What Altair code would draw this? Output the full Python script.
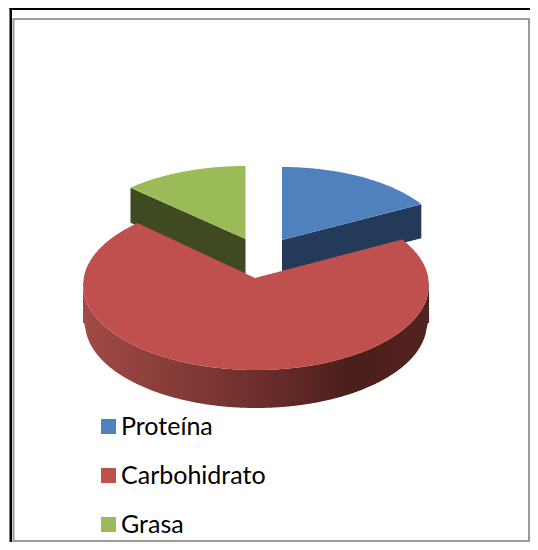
import math
import numpy as np
import pandas as pd
import altair as alt

# Data
categorias = ["Proteína", "Carbohidrato", "Grasa"]
valores = [16, 72, 12]
colores = ["#4F81BD", "#C0504D", "#9BBB59"]
colores_lado = ["#243A5A", "#404A20"]

# Geometry of the tilted pie, in page pixels
PAGE_W, PAGE_H, M = 538, 550, 8
RED = dict(cx=256, cy=285, a=173, b=85, apex=(255, 278))
RED_BOTTOM = dict(cx=256, cy=323, a=171, b=85)
BLUE = dict(cx=282, cy=247, a=165, b=80, apex=(282, 240))
GREEN = dict(cx=245.5, cy=246, a=168, b=80, apex=(245.5, 239))
DEPTH_BLUE, DEPTH_GREEN = 34, 35

total = sum(valores)
angulos = np.cumsum([0] + [v / total * 360 for v in valores])


def pt(e, deg):
    r = math.radians(deg)
    return e["cx"] + e["a"] * math.sin(r), e["cy"] - e["b"] * math.cos(r)


def half(e, x, sign):
    u = np.clip((x - e["cx"]) / e["a"], -1, 1)
    return e["cy"] + sign * e["b"] * np.sqrt(1 - u * u)


def segment(p, q, x):
    return p[1] + (q[1] - p[1]) * (x - p[0]) / (q[0] - p[0])


def wedge(e, end_deg, cat):
    end = pt(e, end_deg)
    xs = np.linspace(min(e["apex"][0], end[0]), max(e["apex"][0], end[0]), 80)
    return pd.DataFrame({
        "x": xs,
        "y": half(e, xs, -1),
        "y2": segment(e["apex"], end, xs),
        "categoria": cat,
    })


def cut_side(e, end_deg, depth):
    end = pt(e, end_deg)
    xs = np.array(sorted([e["apex"][0], end[0]]))
    y = segment(e["apex"], end, xs)
    return pd.DataFrame({"x": xs, "y": y, "y2": y + depth})


blue_top = wedge(BLUE, angulos[1], categorias[0])
green_top = wedge(GREEN, angulos[2], categorias[2])
blue_side = cut_side(BLUE, angulos[1], DEPTH_BLUE)
green_side = cut_side(GREEN, angulos[2], DEPTH_GREEN)

p1, p2 = pt(RED, angulos[1]), pt(RED, angulos[2])
xs = np.unique(np.concatenate([
    np.linspace(RED["cx"] - RED["a"], RED["cx"] + RED["a"], 300),
    [p1[0], p2[0], RED["apex"][0]],
]))
upper = half(RED, xs, -1)
mask_l = (xs >= p2[0]) & (xs <= RED["apex"][0])
mask_r = (xs >= RED["apex"][0]) & (xs <= p1[0])
upper[mask_l] = segment(p2, RED["apex"], xs[mask_l])
upper[mask_r] = segment(RED["apex"], p1, xs[mask_r])
red_top = pd.DataFrame({"x": xs, "y": upper, "y2": half(RED, xs, 1), "categoria": categorias[1]})
red_rim = pd.DataFrame({"x": xs, "y": half(RED, xs, 1), "y2": half(RED_BOTTOM, xs, 1)})

SVG_W, SVG_H = PAGE_W - 2 * M, PAGE_H - 2 * M
x_scale = alt.Scale(domain=[M, M + SVG_W], range=[0, SVG_W], nice=False, zero=False)
y_scale = alt.Scale(domain=[M, M + SVG_H], range=[0, SVG_H], nice=False, zero=False)
X = alt.X("x:Q", scale=x_scale, axis=None)
Y = alt.Y("y:Q", scale=y_scale, axis=None)
Y2 = alt.Y2("y2:Q")
color = alt.Color(
    "categoria:N",
    scale=alt.Scale(domain=categorias, range=colores),
    sort=categorias,
    legend=alt.Legend(
        title=None, orient="none", legendX=88, legendY=406,
        symbolType="square", symbolSize=225, symbolStrokeWidth=0, symbolOpacity=1,
        labelFont="Lato", labelFontSize=25, labelColor="#000000", labelOffset=0,
        rowPadding=23, padding=0,
    ),
)


def side(df, col):
    return alt.Chart(df).mark_area(color=col).encode(x=X, y=Y, y2=Y2)


def top(df):
    return alt.Chart(df).mark_area().encode(x=X, y=Y, y2=Y2, color=color)


def box(x0, x1, y0, y1, **kw):
    d = pd.DataFrame({"x": [x0], "x1": [x1], "y": [y0], "y2": [y1]})
    return alt.Chart(d).mark_rect(**kw).encode(x=X, x2=alt.X2("x1:Q"), y=Y, y2=Y2)


rim_gradient = alt.LinearGradient(
    gradient="linear", x1=0, x2=1, y1=0, y2=0,
    stops=[
        alt.GradientStop(offset=0, color="#A24A46"),
        alt.GradientStop(offset=0.5, color="#6E2F2C"),
        alt.GradientStop(offset=0.78, color="#4A1E1B"),
        alt.GradientStop(offset=1, color="#54231F"),
    ],
)

chart = alt.layer(
    box(9.5, 12, 8, M + SVG_H, color="#000000"),
    box(9.5, M + SVG_W, 8, 10, color="#000000"),
    box(13.5, M + SVG_W - 1, 19, M + SVG_H - 1, fill="#FFFFFF", stroke="#9A9A9A", strokeWidth=2),
    side(blue_side, colores_lado[0]),
    top(blue_top),
    side(green_side, colores_lado[1]),
    top(green_top),
    alt.Chart(red_rim).mark_area(color=rim_gradient).encode(x=X, y=Y, y2=Y2),
    top(red_top),
).properties(
    width=SVG_W, height=SVG_H, padding=0, autosize=alt.AutoSizeParams(type="none"),
).configure_view(stroke=None)

chart.save("out.html", embed_options={"renderer": "svg", "actions": False})
